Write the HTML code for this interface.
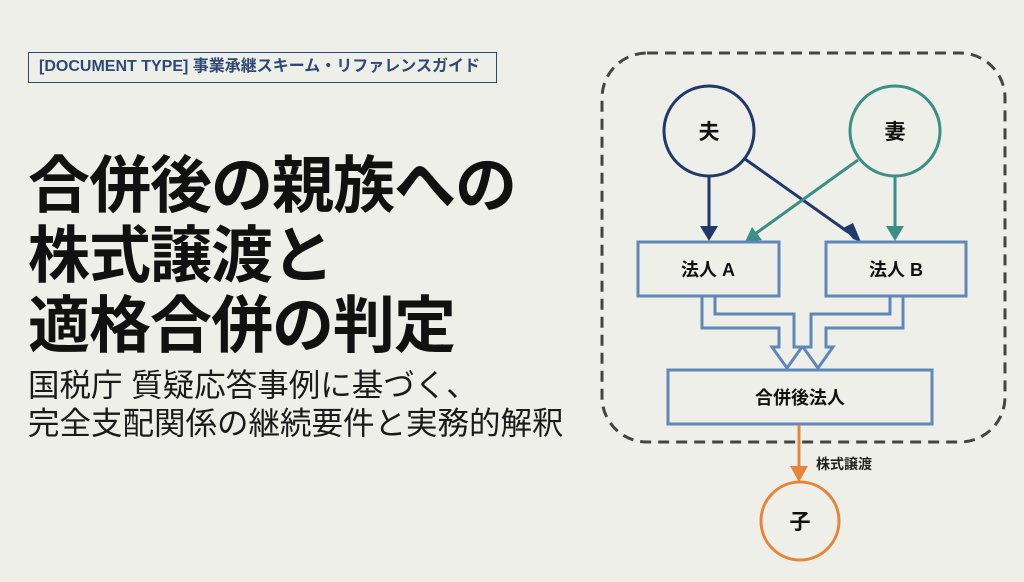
<!DOCTYPE html>
<html><head><meta charset="utf-8"><style>
body{margin:0;width:1024px;height:582px;background:#efefea;overflow:hidden;position:relative;font-family:"Liberation Sans","Noto Sans CJK JP",sans-serif}
.tag{position:absolute;left:28px;top:52px;width:469px;height:31px;border:1.5px solid #2c4a75;box-sizing:border-box;color:#2c4a75;font-size:16px;font-weight:bold;line-height:28px;padding-left:10px;white-space:nowrap}
.title{position:absolute;left:28px;top:152px;font-size:62px;font-weight:bold;line-height:70px;color:#111;white-space:nowrap;letter-spacing:-1px}
.sub{position:absolute;left:28px;top:366px;font-size:31.5px;line-height:38px;color:#1a1a1a;white-space:nowrap}
</style></head><body>
<div class="tag">[DOCUMENT TYPE] 事業承継スキーム・リファレンスガイド</div>
<div class="title">合併後の親族への<br>株式譲渡と<br>適格合併の判定</div>
<div class="sub">国税庁 質疑応答事例に基づく、<br>完全支配関係の継続要件と実務的解釈</div>
<svg width="1024" height="582" style="position:absolute;left:0;top:0" font-family="Liberation Sans, Noto Sans CJK JP, sans-serif">
<rect x="602" y="53" width="403" height="389" rx="45" fill="none" stroke="#444" stroke-width="3" stroke-dasharray="11 7"/>
<circle cx="709" cy="131" r="45" fill="none" stroke="#1f3a6a" stroke-width="3"/>
<circle cx="895" cy="131" r="45" fill="none" stroke="#3a8f86" stroke-width="3"/>
<text x="709" y="139" text-anchor="middle" font-size="21" font-weight="bold" fill="#111">夫</text>
<text x="895" y="139" text-anchor="middle" font-size="21" font-weight="bold" fill="#111">妻</text>
<g stroke-width="3">
<line x1="709" y1="176" x2="709" y2="228" stroke="#1f3a6a"/>
<polygon points="700,226 718,226 709,241" fill="#1f3a6a"/>
<line x1="745" y1="159" x2="848" y2="232" stroke="#1f3a6a"/>
<polygon points="842,226 853,239 861,242 860,241" fill="#1f3a6a"/>
<polygon points="841,229 853,223 861,242" fill="#1f3a6a"/>
<line x1="858" y1="160" x2="755" y2="234" stroke="#3a8f86"/>
<polygon points="745,242 752,227 762,240" fill="#3a8f86"/>
<line x1="895" y1="176" x2="895" y2="228" stroke="#3a8f86"/>
<polygon points="886,226 904,226 895,241" fill="#3a8f86"/>
</g>
<g fill="none" stroke="#5f88b8" stroke-width="3">
<rect x="638" y="242" width="141" height="54"/>
<rect x="826" y="242" width="140" height="54"/>
<rect x="668" y="370" width="264" height="54"/>
<path d="M702,297 V328 H779 V347 H772 L787,368 L802,347 H794 V314 H715 V297"/>
<path d="M903,297 V328 H826 V347 H833 L818,368 L803,347 H811 V314 H890 V297" />
</g>
<text x="708" y="276" text-anchor="middle" font-size="18" font-weight="bold" fill="#111">法人 A</text>
<text x="896" y="276" text-anchor="middle" font-size="18" font-weight="bold" fill="#111">法人 B</text>
<text x="800" y="404" text-anchor="middle" font-size="18" font-weight="bold" fill="#111">合併後法人</text>
<line x1="799" y1="425" x2="799" y2="468" stroke="#e8843a" stroke-width="3"/>
<polygon points="790,466 808,466 799,482" fill="#e8843a"/>
<text x="816" y="469" font-size="14" font-weight="bold" fill="#222">株式譲渡</text>
<circle cx="800" cy="521" r="39" fill="none" stroke="#e8843a" stroke-width="3"/>
<text x="800" y="529" text-anchor="middle" font-size="21" font-weight="bold" fill="#111">子</text>
</svg>
</body></html>
